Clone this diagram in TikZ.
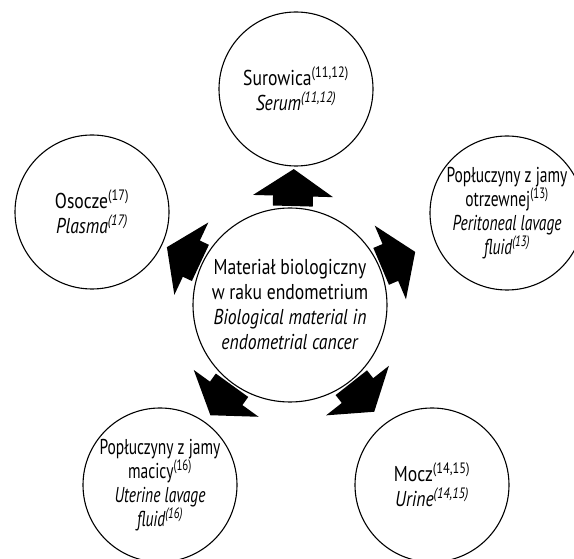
\documentclass[tikz,border=0pt]{standalone}
\usepackage{fontspec}
\setmainfont[FakeStretch=0.82]{PT Sans}
\newfontfamily\narrowfont[FakeStretch=0.72]{PT Sans}
\usetikzlibrary{calc}
\newcommand\blockarrow[2]{%
  \path let \p1=($(#2)-(#1)$), \n1={atan2(\y1,\x1)} in
    ($(#1)!99pt!(#2)$) coordinate (tmp)
    pic[rotate=\n1] at (tmp) {barrow};
}
\begin{document}
\begin{tikzpicture}[x=1pt,y=1pt,
  circ/.style={circle, draw, line width=1.1pt, minimum size=154pt, inner sep=0pt,
    align=center, font=\fontsize{21.5}{25}\selectfont},
  narrowcirc/.style={circ, font=\fontsize{21.5}{24}\selectfont\narrowfont},
  barrow/.pic={\fill[black] (0,-20) -- (10,-20) -- (10,-40) -- (37,0) -- (10,40) -- (10,20) -- (0,20) -- cycle;}
]
\useasboundingbox (0,0) rectangle (574,558);
\fill[white] (0,0) rectangle (574,558);
\node[circ, minimum size=194pt] (c) at (290,253)
  {Materiał biologiczny\\w raku endometrium\\\textit{Biological material in}\\\textit{endometrial cancer}};
\node[circ] (top) at (296,469)
  {Surowica\textsuperscript{(11,12)}\\\textit{Serum\textsuperscript{(11,12)}}};
\node[narrowcirc] (right) at (507,345)
  {Popłuczyny z jamy\\otrzewnej\textsuperscript{(13)}\\\textit{Peritoneal lavage}\\\textit{fluid\textsuperscript{(13)}}};
\node[circ] (left) at (92,346)
  {Osocze\textsuperscript{(17)}\\\textit{Plasma\textsuperscript{(17)}}};
\node[narrowcirc] (bl) at (160,73)
  {Popłuczyny z jamy\\macicy\textsuperscript{(16)}\\\textit{Uterine lavage}\\\textit{fluid\textsuperscript{(16)}}};
\node[circ] (br) at (432,73)
  {Mocz\textsuperscript{(14,15)}\\\textit{Urine\textsuperscript{(14,15)}}};
\blockarrow{c}{top}
\blockarrow{c}{right}
\blockarrow{c}{left}
\blockarrow{c}{bl}
\blockarrow{c}{br}
\end{tikzpicture}
\end{document}
